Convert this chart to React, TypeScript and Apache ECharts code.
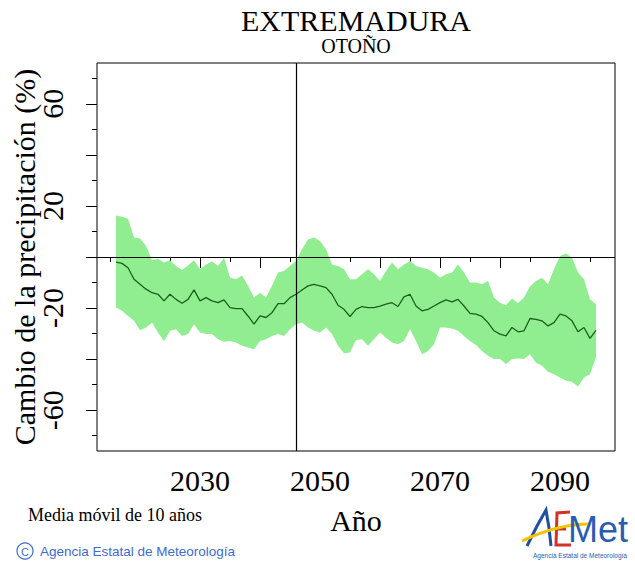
import React, { useEffect, useRef } from "react";
import * as echarts from "echarts";

// Years of the 10-year moving average (consecutive years 2016..2096)
const YEARS: number[] = Array.from({ length: 81 }, (_, i) => 2016 + i);

// Upper limit of the ensemble band (%)
const UPPER: number[] = [
  16.3, 15.8, 15.0, 7.6, 7.2, 4.3, -1.3, -0.7, -2.2, -1.3,
  -3.5, -5.1, -3.3, -1.3, -4.8, -2.9, -1.8, -3.5, -0.3, -8.0,
  -8.7, -7.2, -11.3, -15.9, -14.0, -15.9, -11.3, -6.1, -5.5, -3.5,
  -1.6, 3.0, 6.9, 7.6, 6.3, 3.0, -2.9, -3.5, -4.8, -8.7,
  -8.7, -6.8, -4.8, -6.8, -9.4, -5.5, -2.2, -4.8, -2.9, -1.6,
  -3.5, -4.2, -4.8, -6.1, -8.1, -6.8, -6.1, -2.9, -6.1, -10.0,
  -10.0, -10.7, -9.4, -15.9, -17.9, -18.9, -16.3, -18.1, -15.9, -11.6,
  -9.4, -8.1, -10.7, -4.8, 0.4, 1.4, -0.3, -6.1, -8.7, -16.6,
  -18.5,
];

// Lower limit of the ensemble band (%)
const LOWER: number[] = [
  -19.8, -21.1, -23.1, -25.0, -28.7, -27.6, -25.7, -29.6, -33.0, -28.9,
  -28.3, -30.9, -30.2, -26.3, -29.6, -30.2, -30.2, -32.2, -33.2, -32.9,
  -33.5, -34.8, -35.5, -36.1, -32.9, -32.2, -30.9, -30.2, -30.9, -28.3,
  -26.3, -25.7, -27.6, -28.9, -29.6, -27.6, -30.2, -34.8, -37.7, -37.4,
  -32.5, -32.2, -34.8, -32.2, -29.6, -31.6, -33.5, -34.2, -32.9, -28.3,
  -32.9, -38.1, -36.8, -34.2, -27.6, -27.6, -28.0, -28.9, -30.9, -32.9,
  -34.5, -36.8, -38.7, -40.0, -40.0, -42.0, -40.0, -39.8, -40.0, -38.1,
  -41.4, -42.6, -45.0, -45.9, -47.2, -48.5, -48.9, -50.7, -47.2, -45.9,
  -39.4,
];

// Ensemble mean (%)
const MEAN: number[] = [
  -2.0, -2.5, -4.2, -8.7, -10.7, -12.6, -14.0, -14.6, -17.2, -14.6,
  -16.6, -18.1, -16.6, -12.9, -17.2, -15.9, -17.2, -17.9, -16.8, -19.8,
  -20.2, -20.2, -23.1, -26.3, -23.1, -23.7, -21.8, -18.3, -18.3, -15.9,
  -14.6, -12.9, -11.3, -10.7, -11.3, -12.0, -14.6, -18.9, -20.5, -23.3,
  -20.5, -19.4, -19.8, -19.8, -19.2, -18.5, -17.9, -19.4, -15.6, -14.6,
  -19.2, -21.1, -20.5, -19.2, -17.9, -16.8, -17.6, -16.6, -19.2, -22.1,
  -22.4, -23.3, -25.7, -28.9, -30.2, -30.9, -27.6, -29.3, -28.9, -24.1,
  -24.4, -25.0, -27.0, -25.7, -22.4, -23.1, -25.0, -29.3, -27.6, -31.9,
  -28.7,
];

const X_LONG_TICKS = [2020, 2030, 2040, 2050, 2060, 2070, 2080, 2090];
const X_SHORT_TICKS = [2015, 2025, 2035, 2045, 2055, 2065, 2075, 2085, 2095];
const X_LABELS = [2030, 2050, 2070, 2090];
const Y_LONG_TICKS = [-60, -40, -20, 0, 20, 40, 60];
const Y_SHORT_TICKS = [-70, -50, -30, -10, 10, 30, 50, 70];
const Y_LABELS = [-60, -20, 20, 60];
const REF_YEAR = 2046;

const SERIF = "'Liberation Serif', 'Times New Roman', serif";
const SANS = "'Liberation Sans', Arial, sans-serif";

export default function App() {
  const ref = useRef<HTMLDivElement>(null);

  useEffect(() => {
    if (!ref.current) return;
    const chart = echarts.init(ref.current, undefined, { renderer: "svg" });

    const xCommon = {
      type: "value" as const,
      min: 2012.83,
      max: 2099.17,
      position: "bottom" as const,
      axisLine: { show: false },
      splitLine: { show: false },
    };
    const yCommon = {
      type: "value" as const,
      min: -76,
      max: 76,
      position: "left" as const,
      axisLine: { show: false },
      splitLine: { show: false },
    };

    const option: any = {
      animation: false,
      backgroundColor: "#ffffff",
      grid: {
        left: 97,
        top: 63,
        right: 20,
        bottom: 110,
        containLabel: false,
        outerBoundsMode: "none",
        show: true,
        borderColor: "#000",
        borderWidth: 1,
        backgroundColor: "transparent",
      },
      xAxis: [
        {
          ...xCommon,
          name: "Año",
          nameLocation: "middle",
          nameGap: 54,
          nameMoveOverlap: false,
          nameTextStyle: { fontFamily: SERIF, fontSize: 30, color: "#000" },
          axisTick: {
            show: true,
            length: 11,
            customValues: X_LONG_TICKS,
            lineStyle: { color: "#000", width: 1 },
          },
          axisLabel: {
            show: true,
            customValues: X_LABELS,
            margin: 14,
            fontFamily: SERIF,
            fontSize: 30,
            color: "#000",
            formatter: (v: number) => String(v),
          },
        },
        {
          ...xCommon,
          axisTick: {
            show: true,
            length: 5,
            customValues: X_SHORT_TICKS,
            lineStyle: { color: "#000", width: 1 },
          },
          axisLabel: { show: false },
        },
      ],
      yAxis: [
        {
          ...yCommon,
          name: "Cambio de la precipitación (%)",
          nameLocation: "middle",
          nameGap: 58,
          nameMoveOverlap: false,
          nameTextStyle: { fontFamily: SERIF, fontSize: 30, color: "#000" },
          axisTick: {
            show: true,
            length: 11,
            customValues: Y_LONG_TICKS,
            lineStyle: { color: "#000", width: 1 },
          },
          axisLabel: {
            show: true,
            customValues: Y_LABELS,
            rotate: 90,
            margin: 30,
            fontFamily: SERIF,
            fontSize: 30,
            color: "#000",
            formatter: (v: number) => String(v),
          },
        },
        {
          ...yCommon,
          axisTick: {
            show: true,
            length: 5,
            customValues: Y_SHORT_TICKS,
            lineStyle: { color: "#000", width: 1 },
          },
          axisLabel: { show: false },
        },
      ],
      series: [
        {
          type: "custom",
          name: "band",
          xAxisIndex: 0,
          yAxisIndex: 0,
          clip: true,
          data: [[YEARS[0], UPPER[0]]],
          encode: { x: 0, y: 1 },
          renderItem: (params: any, api: any) => {
            const pts: number[][] = [];
            for (let i = 0; i < YEARS.length; i++) pts.push(api.coord([YEARS[i], UPPER[i]]));
            for (let i = YEARS.length - 1; i >= 0; i--) pts.push(api.coord([YEARS[i], LOWER[i]]));
            return {
              type: "polygon",
              shape: { points: pts },
              style: { fill: "#90EE90", stroke: "none" },
            };
          },
          silent: true,
          z: 1,
        },
        {
          type: "line",
          name: "mean",
          xAxisIndex: 0,
          yAxisIndex: 0,
          data: YEARS.map((y, i) => [y, MEAN[i]]),
          showSymbol: false,
          symbol: "none",
          lineStyle: { color: "#1a601a", width: 1.3 },
          z: 2,
          markLine: {
            silent: true,
            symbol: ["none", "none"],
            label: { show: false },
            lineStyle: { color: "#000", width: 1.2, type: "solid" },
            data: [{ yAxis: 0 }, { xAxis: REF_YEAR }],
          },
        },
      ],
      graphic: [
        {
          type: "text",
          x: 356,
          y: 5.5,
          style: {
            text: "EXTREMADURA",
            font: `30px ${SERIF}`,
            fill: "#000",
            textAlign: "center",
            textVerticalAlign: "top",
          },
        },
        {
          type: "text",
          x: 356,
          y: 35.8,
          style: {
            text: "OTOÑO",
            font: `20px ${SERIF}`,
            fill: "#000",
            textAlign: "center",
            textVerticalAlign: "top",
          },
        },
        {
          type: "text",
          x: 28,
          y: 515,
          style: {
            text: "Media móvil de 10 años",
            font: `18px ${SERIF}`,
            fill: "#000",
            textAlign: "left",
            textVerticalAlign: "middle",
          },
        },
        {
          type: "circle",
          shape: { cx: 25, cy: 551, r: 8 },
          style: { fill: "none", stroke: "#3d6cd0", lineWidth: 1.2 },
        },
        {
          type: "text",
          x: 25,
          y: 551.5,
          style: {
            text: "C",
            font: `11px ${SANS}`,
            fill: "#3d6cd0",
            textAlign: "center",
            textVerticalAlign: "middle",
          },
        },
        {
          type: "text",
          x: 40,
          y: 551,
          style: {
            text: "Agencia Estatal de Meteorología",
            font: `13.5px ${SANS}`,
            fill: "#3d6cd0",
            textAlign: "left",
            textVerticalAlign: "middle",
          },
        },
        // AEMet logo
        {
          type: "polyline",
          shape: { points: [[527, 546], [537, 526], [546, 510], [549, 528], [551, 546]] },
          style: { stroke: "#1f4ea6", lineWidth: 3, fill: "none" },
        },
        {
          type: "polyline",
          shape: { points: [[570, 512], [557, 513], [556, 545], [571, 545]] },
          style: { stroke: "#d1322b", lineWidth: 3, fill: "none" },
        },
        {
          type: "line",
          shape: { x1: 556, y1: 529, x2: 566, y2: 529 },
          style: { stroke: "#d1322b", lineWidth: 3 },
        },
        {
          type: "bezierCurve",
          shape: { x1: 522, y1: 541, x2: 590, y2: 524, cpx1: 545, cpy1: 530, cpx2: 570, cpy2: 524 },
          style: { stroke: "#f2c400", lineWidth: 3, fill: "none" },
        },
        {
          type: "text",
          x: 568,
          y: 547,
          style: {
            text: "Met",
            font: `36px ${SANS}`,
            fill: "#2a5cb3",
            textAlign: "left",
            textVerticalAlign: "bottom",
          },
        },
        {
          type: "text",
          x: 580,
          y: 555,
          style: {
            text: "Agencia Estatal de Meteorología",
            font: `6.5px ${SANS}`,
            fill: "#2a5cb3",
            textAlign: "center",
            textVerticalAlign: "middle",
          },
        },
      ],
    };

    chart.setOption(option);
    return () => chart.dispose();
  }, []);

  return (
    <div
      ref={ref}
      style={{ position: "fixed", left: 0, top: 0, width: 635, height: 561, background: "#fff" }}
    />
  );
}
